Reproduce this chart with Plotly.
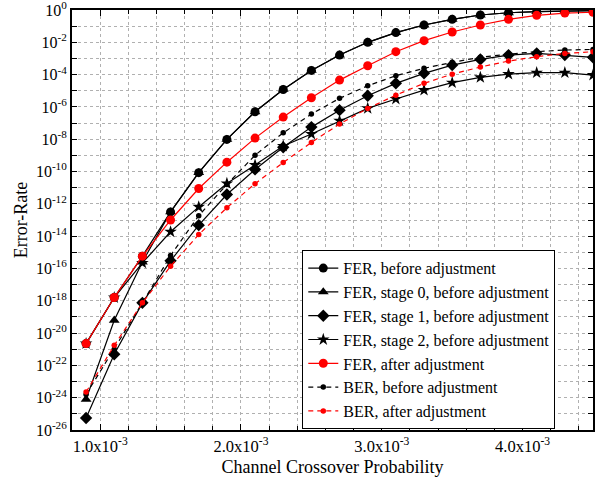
import plotly.graph_objects as go

# Channel crossover probability
p = [0.9e-3, 1.1e-3, 1.3e-3, 1.5e-3, 1.7e-3, 1.9e-3, 2.1e-3, 2.3e-3, 2.5e-3, 2.7e-3,
     2.9e-3, 3.1e-3, 3.3e-3, 3.5e-3, 3.7e-3, 3.9e-3, 4.1e-3, 4.3e-3, 4.5e-3]

# log10 of error rates
fer_before_log = [-20.65, -17.8, -15.24, -12.5, -10.07, -8.01, -6.3, -4.92, -3.74, -2.79,
                  -2.0, -1.40, -0.93, -0.58, -0.31, -0.17, -0.10, -0.06, -0.04]
fer_s0_log = [-24.1, -19.21, -15.6, -12.5, -10.07, -8.01, -6.3, -4.92, -3.74, -2.79,
              -2.0, -1.40, -0.93, -0.58, -0.31, -0.17, -0.10, -0.06, -0.04]
fer_s1_log = [-25.26, -21.31, -18.13, -15.53, -13.32, -11.42, -9.87, -8.5, -7.25, -6.2,
              -5.31, -4.54, -3.92, -3.41, -3.06, -2.79, -2.69, -2.79, -2.93]
fer_s2_log = [-20.65, -17.8, -15.66, -13.73, -12.19, -10.74, -9.6, -8.42, -7.68, -6.86,
              -6.09, -5.51, -4.96, -4.5, -4.17, -3.97, -3.88, -3.88, -4.03]
fer_after_log = [-20.65, -17.8, -15.24, -13.0, -11.05, -9.42, -7.93, -6.63, -5.43, -4.34,
                 -3.45, -2.58, -1.9, -1.36, -0.93, -0.58, -0.33, -0.19, -0.14]
ber_before_log = [-23.8, -21.0, -18.13, -15.2, -12.73, -10.8, -8.99, -7.6, -6.44, -5.47,
                  -4.69, -4.07, -3.61, -3.24, -2.93, -2.73, -2.58, -2.48, -2.44]
ber_after_log = [-23.65, -20.76, -18.13, -15.86, -13.9, -12.24, -10.75, -9.44, -8.2, -7.06,
                 -6.09, -5.27, -4.54, -3.97, -3.53, -3.16, -2.89, -2.69, -2.58]

names = ["FER, before adjustment", "FER, stage 0, before adjustment",
         "FER, stage 1, before adjustment", "FER, stage 2, before adjustment",
         "FER, after adjustment", "BER, before adjustment", "BER, after adjustment"]

y_major_exps = list(range(0, -27, -2))
y_minor_exps = list(range(-1, -27, -2))
x_tickvals = [1.0e-3, 2.0e-3, 3.0e-3, 4.0e-3]
x_ticktext = ["1.0x10<sup>-3</sup>", "2.0x10<sup>-3</sup>", "3.0x10<sup>-3</sup>", "4.0x10<sup>-3</sup>"]

def to_val(lst):
    return [10 ** v for v in lst]

# (values, colour, dash, symbol, size, legend rank); star drawn first so circles cover it
series = [
    (fer_s2_log, "black", "solid", "star", 9.5, 4, names[3]),
    (fer_before_log, "black", "solid", "circle", 9, 1, names[0]),
    (fer_s0_log, "black", "solid", "triangle-up", 9.5, 2, names[1]),
    (fer_s1_log, "black", "solid", "diamond", 9.5, 3, names[2]),
    (fer_after_log, "#ff0000", "solid", "circle", 9, 5, names[4]),
    (ber_before_log, "black", "5px,4px", "circle", 5.5, 6, names[5]),
    (ber_after_log, "#ff0000", "5px,4px", "circle", 5.5, 7, names[6]),
]

fig = go.Figure()
for vals, color, dash, sym, size, rank, name in series:
    fig.add_trace(go.Scatter(
        x=p, y=to_val(vals), name=name, mode="lines+markers", legendrank=rank,
        line=dict(color=color, width=1.2, dash=dash),
        marker=dict(symbol=sym, size=size, color=color, line=dict(width=0)),
    ))

font_family = "Times New Roman, Liberation Serif, serif"
fig.update_layout(
    width=603, height=485,
    margin=dict(l=72, r=10, t=10, b=55, autoexpand=False),
    paper_bgcolor="white", plot_bgcolor="white",
    font=dict(family=font_family, size=16, color="black"),
    showlegend=True,
    legend=dict(x=0.442, y=0.215, xanchor="left", yanchor="middle",
                bgcolor="white", bordercolor="black", borderwidth=1,
                font=dict(family=font_family, size=16, color="black"),
                tracegroupgap=0, itemsizing="trace", traceorder="normal"),
)

fig.update_xaxes(
    range=[0.8e-3, 4.5e-3], automargin=False, ticklabeloverflow="allow",
    tickmode="array", tickvals=x_tickvals, ticktext=x_ticktext,
    ticks="inside", ticklen=6, tickcolor="black", tickwidth=1,
    showline=True, linecolor="black", linewidth=2, mirror="allticks",
    showgrid=True, gridcolor="#b0b0b0", griddash="dot", gridwidth=1,
    minor=dict(tickmode="linear", tick0=0.0, dtick=0.2e-3, ticks="inside", ticklen=4,
               tickcolor="black", showgrid=True, gridcolor="#b0b0b0", griddash="dot"),
    title=dict(text="Channel Crossover Probability", font=dict(family=font_family, size=18), standoff=6),
    tickfont=dict(family=font_family, size=16.5), zeroline=False,
)

fig.update_yaxes(
    type="log", range=[-26, 0], automargin=False, ticklabeloverflow="allow",
    tickmode="array",
    tickvals=[10 ** e for e in y_major_exps],
    ticktext=["10<sup>%d</sup>" % e for e in y_major_exps],
    ticks="inside", ticklen=5, tickcolor="black", tickwidth=1,
    showline=True, linecolor="black", linewidth=2, mirror="allticks",
    showgrid=True, gridcolor="#b0b0b0", griddash="dot", gridwidth=1,
    minor=dict(tickmode="array", tickvals=[10 ** e for e in y_minor_exps],
               ticks="inside", ticklen=5, tickcolor="black",
               showgrid=True, gridcolor="#b0b0b0", griddash="dot"),
    title=dict(text="Error-Rate", font=dict(family=font_family, size=18), standoff=4),
    tickfont=dict(family=font_family, size=16), zeroline=False,
)

fig.write_html("out.html", config={"displayModeBar": False},
               post_script="document.body.style.margin='0';")
